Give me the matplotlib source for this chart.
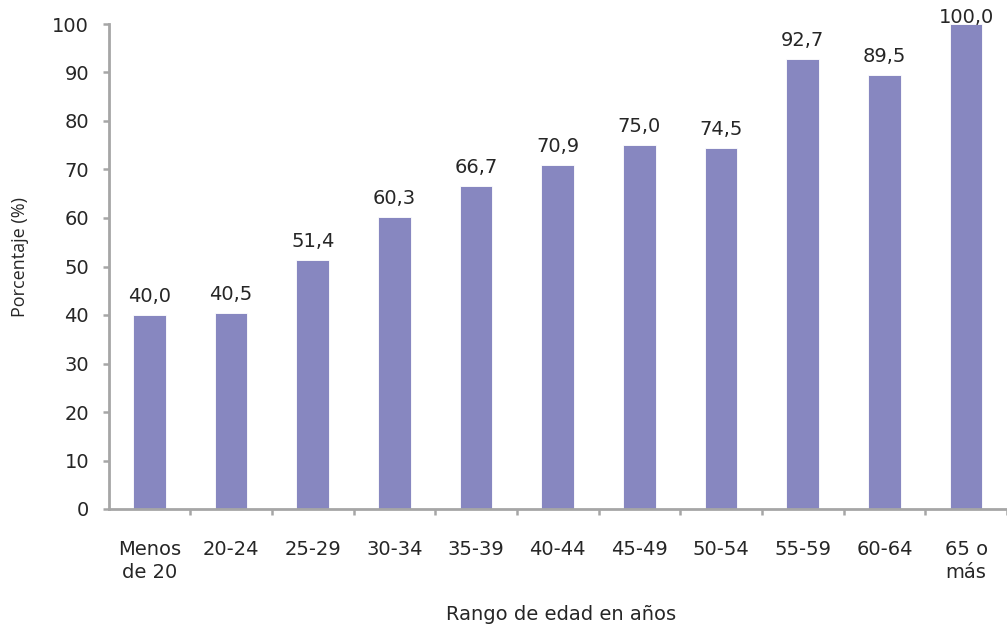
import matplotlib
matplotlib.use("Agg")
import matplotlib.pyplot as plt

categories = ["Menos\nde 20", "20-24", "25-29", "30-34", "35-39", "40-44",
              "45-49", "50-54", "55-59", "60-64", "65 o\nmás"]
values = [40.0, 40.5, 51.4, 60.3, 66.7, 70.9, 75.0, 74.5, 92.7, 89.5, 100.0]
yticks = [0, 10, 20, 30, 40, 50, 60, 70, 80, 90, 100]

plt.rcParams['font.family'] = ['DejaVu Sans']
text_color = "#262626"
spine_color = "#A6A6A6"
bar_color = "#8787C0"
FS = 14

W, H = 1007, 627
fig = plt.figure(figsize=(W / 100, H / 100), dpi=100)
ax = fig.add_axes([108.5 / W, (H - 509) / H, (W - 108.5) / W, (509 - 24) / H])

x = list(range(len(categories)))
ax.bar(x, values, width=0.4, color=bar_color, edgecolor="white", linewidth=0.6, zorder=2)

ax.set_xlim(-0.5, len(categories) - 0.5)
ax.set_ylim(0, 100)

# value labels: baseline ~13 px above bar, unless it would leave the figure
for xi, v in zip(x, values):
    top_px = (100 - v) * 4.85 + 24  # distance from figure top (approx, for fit check)
    gap_px = 13 if top_px - 13 - 16 >= 0 else 1
    ax.annotate(f"{v:.1f}".replace(".", ","), (xi, v), xytext=(0, gap_px * 0.72),
                textcoords="offset points", ha="center", va="baseline",
                fontsize=FS, color=text_color, annotation_clip=False)

ax.set_yticks(yticks)
ax.set_yticklabels([str(t) for t in yticks], fontsize=FS, color=text_color)

# category boundaries as tick marks, labels at centers
ax.set_xticks([i + 0.5 for i in range(len(categories))])
ax.set_xticklabels([])
ax.set_xticks(x, minor=True)
ax.set_xticklabels(categories, minor=True, fontsize=FS, color=text_color, linespacing=1.3)
ax.tick_params(axis="x", which="minor", length=0, pad=22)
ax.tick_params(axis="x", which="major", length=4.5, width=1.8, color=spine_color, direction="out")
ax.tick_params(axis="y", length=4, width=1.8, color=spine_color, pad=10)

for s in ["top", "right"]:
    ax.spines[s].set_visible(False)
for s in ["left", "bottom"]:
    ax.spines[s].set_color(spine_color)
    ax.spines[s].set_linewidth(2.0)

fig.text(20 / W, 1 - 257 / H, "Porcentaje (%)", rotation=90, ha="center", va="center",
         fontsize=13, color=text_color, family=["Open Sans", "DejaVu Sans"])
fig.text(561 / W, 1 - 620 / H, "Rango de edad en años", ha="center", va="baseline",
         fontsize=FS, color=text_color)

fig.savefig("out.png", dpi=100)
